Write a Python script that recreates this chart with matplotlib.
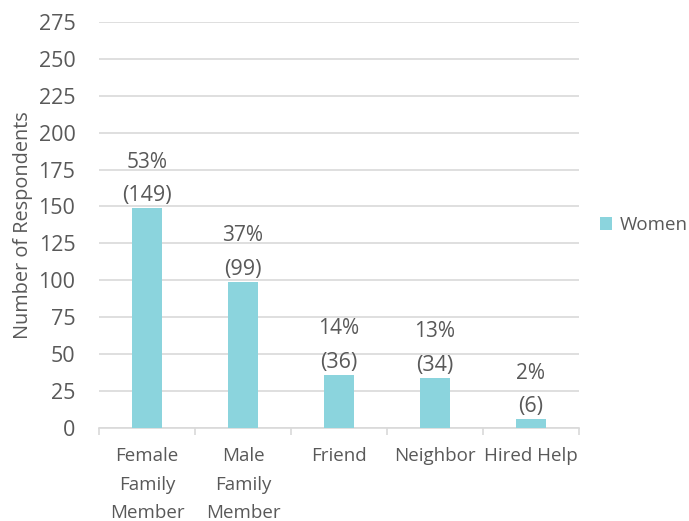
import numpy as np
import matplotlib.pyplot as plt

# helpers named by survey respondents
categories = ['Female\nFamily\nMember', 'Male\nFamily\nMember', 'Friend', 'Neighbor', 'Hired Help']
counts = [149, 99, 36, 34, 6]
percents = ['53%', '37%', '14%', '13%', '2%']
yticks = [0, 25, 50, 75, 100, 125, 150, 175, 200, 225, 250, 275]

txt = '#595959'
bar_col = '#8BD4DD'
grid_col = '#D9D9D9'

plt.rcParams['font.family'] = ['Open Sans', 'DejaVu Sans']

fig = plt.figure(figsize=(6.89, 5.21), dpi=100)
ax = fig.add_axes([0.1437, 0.1785, 0.6966, 0.7795])

x = np.arange(len(categories))
bars = ax.bar(x, counts, width=0.32, color=bar_col, label='Women', zorder=3)

for xi, c, p in zip(x, counts, percents):
    ax.text(xi, c + 1.5, '(%d)' % c, ha='center', va='bottom', fontsize=15.5, color=txt)
    ax.text(xi, c + 24, p, ha='center', va='bottom', fontsize=15, color=txt)

ax.set_xlim(-0.5, len(categories) - 0.5)
ax.set_ylim(0, 275)
ax.set_yticks(yticks)
ax.set_yticklabels([str(v) for v in yticks], fontsize=15.5, color=txt)
ax.yaxis.grid(True, color=grid_col, linewidth=1.2, zorder=0)
ax.tick_params(axis='y', length=0, pad=17)

ax.set_xticks(x)
ax.set_xticklabels(categories, fontsize=13.5, color=txt, linespacing=1.75)
ax.set_xticks(np.arange(len(categories) + 1) - 0.5, minor=True)
ax.tick_params(axis='x', which='major', length=0, pad=14)
ax.tick_params(axis='x', which='minor', length=5, color=grid_col, width=1.2)

for s in ['top', 'right', 'left']:
    ax.spines[s].set_visible(False)
ax.spines['bottom'].set_color(grid_col)
ax.spines['bottom'].set_linewidth(1.2)

ax.set_ylabel('Number of Respondents', fontsize=14.3, color=txt, labelpad=4)

ax.legend(loc='center left', bbox_to_anchor=(1.008, 0.5), frameon=False,
          fontsize=13.5, labelcolor=txt, handlelength=0.65, handleheight=0.65,
          handletextpad=0.4)

fig.savefig('out.png', dpi=100)
